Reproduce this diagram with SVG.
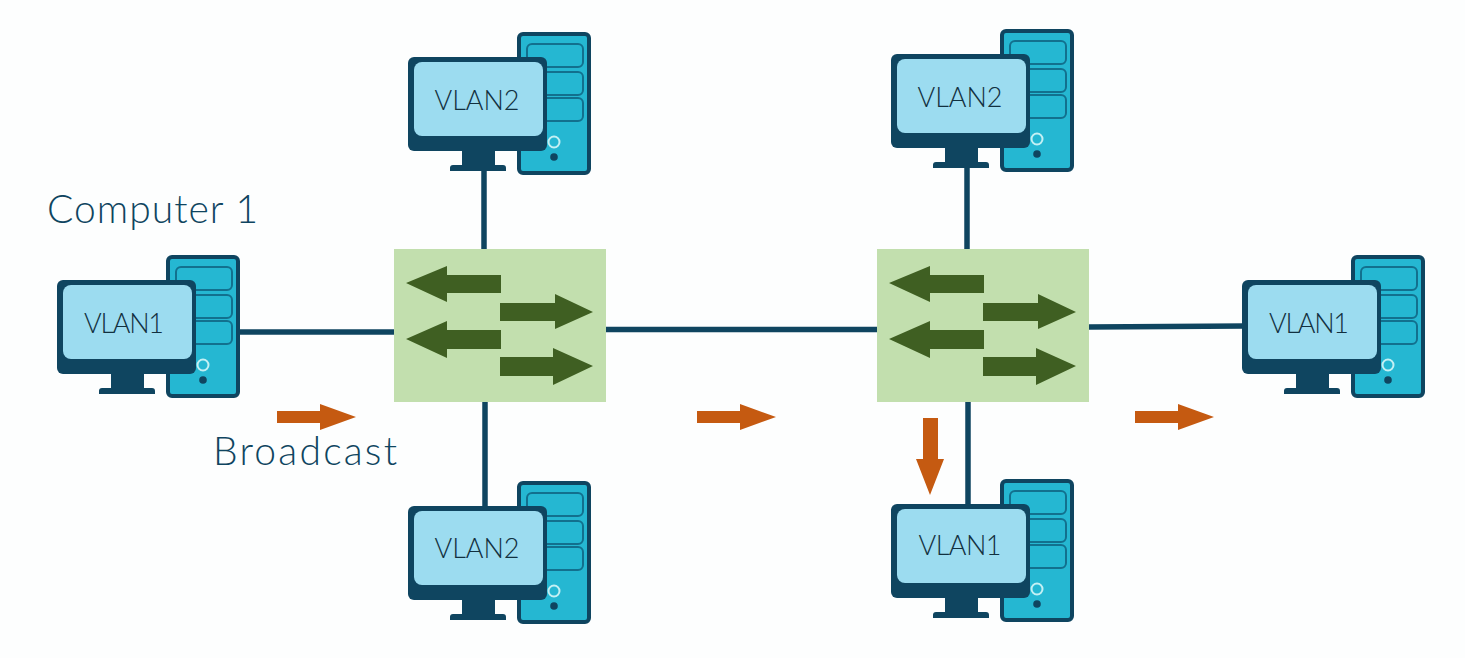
<svg xmlns="http://www.w3.org/2000/svg" width="1465" height="658" viewBox="0 0 1465 658">
<style>
.bg{fill:#fdfefe}
.dk{fill:#0f4560}
.tower{fill:#25b7d2;stroke:#0f4560;stroke-width:4}
.drawer{fill:#25b7d2;stroke:#12708e;stroke-width:2}
.screen{fill:#9cdcf0}
.led{fill:none;stroke:#c4f0f4;stroke-width:2}
.sw{fill:#c2dfae}
.ga{fill:#3f5f22}
.oa{fill:#c55a11}
.link{stroke:#0f4560;stroke-width:5.500;fill:none}
.lbl{font-family:"Lato","Liberation Sans",sans-serif;fill:#12303f;font-size:27px;font-weight:300;text-anchor:middle}
.cap{font-family:"Lato","Liberation Sans",sans-serif;fill:#0f4560;font-size:39px;font-weight:300}
</style>
<defs>
<g id="pc">
<rect class="tower" x="111" y="-23" width="70" height="139" rx="4"/>
<rect class="drawer" x="119" y="-13" width="56" height="23" rx="5"/>
<rect class="drawer" x="119" y="15" width="56" height="23" rx="5"/>
<rect class="drawer" x="119" y="41" width="56" height="23" rx="5"/>
<circle class="led" cx="146" cy="85" r="5.500"/>
<circle class="dk" cx="146" cy="100" r="3.800"/>
<rect class="dk" x="0" y="0" width="139" height="94" rx="6"/>
<rect class="screen" x="6" y="5" width="129" height="74" rx="8"/>
<path class="dk" d="M54 94H87V108H95Q98 108 98 111V114H42V111Q42 108 45 108H54Z"/>
</g>
<g id="swarrows">
<path class="ga" d="M406 283L447 266V275H501V293H447V302Z"/>
<path class="ga" d="M500 303H555V294L593 312L555 329V321H500Z"/>
<path class="ga" d="M406 339L447 321V330H501V349H447V358Z"/>
<path class="ga" d="M500 357H553V348L593 366L553 385V376H500Z"/>
</g>
<path id="oarrow" class="oa" d="M0 -6H43V-13L79 0L43 13V6H0Z"/>
</defs>
<rect class="bg" width="1465" height="658"/>
<g id="connectors">
<line class="link" x1="484" y1="165" x2="484" y2="249"/>
<line class="link" x1="485" y1="402" x2="485" y2="510"/>
<line class="link" x1="240" y1="332" x2="394" y2="332"/>
<line class="link" x1="606" y1="329.500" x2="877" y2="329.500"/>
<line class="link" x1="1089" y1="327" x2="1245" y2="326"/>
<line class="link" x1="967" y1="162" x2="967" y2="249"/>
<line class="link" x1="968" y1="402" x2="968" y2="508"/>
</g>
<g id="switch-left">
<rect class="sw" x="394" y="249" width="212" height="153"/>
<use href="#swarrows"/>
</g>
<g id="switch-right">
<rect class="sw" x="877" y="249" width="212" height="153"/>
<use href="#swarrows" x="483"/>
</g>
<g id="computer-1">
<use href="#pc" x="57" y="280"/>
<text class="lbl" x="124" y="333" textLength="80">VLAN1</text>
</g>
<g id="computer-top-left">
<use href="#pc" x="408" y="57"/>
<text class="lbl" x="477" y="110" textLength="85">VLAN2</text>
</g>
<g id="computer-bottom-left">
<use href="#pc" x="408" y="506"/>
<text class="lbl" x="477" y="558" textLength="85">VLAN2</text>
</g>
<g id="computer-top-right">
<use href="#pc" x="891" y="54"/>
<text class="lbl" x="960" y="107" textLength="85">VLAN2</text>
</g>
<g id="computer-bottom-right">
<use href="#pc" x="891" y="504"/>
<text class="lbl" x="960" y="555" textLength="83">VLAN1</text>
</g>
<g id="computer-right">
<use href="#pc" x="1242" y="280"/>
<text class="lbl" x="1309" y="333" textLength="80">VLAN1</text>
</g>
<g id="flow-arrows">
<use href="#oarrow" x="277" y="417"/>
<use href="#oarrow" x="697" y="417"/>
<use href="#oarrow" x="1135" y="417"/>
<path class="oa" d="M923 418H938V459H944L930 495L916 459H923Z"/>
</g>
<g id="labels">
<text class="cap" x="47" y="223" textLength="211">Computer 1</text>
<text class="cap" x="213" y="465" textLength="184">Broadcast</text>
</g>
</svg>
